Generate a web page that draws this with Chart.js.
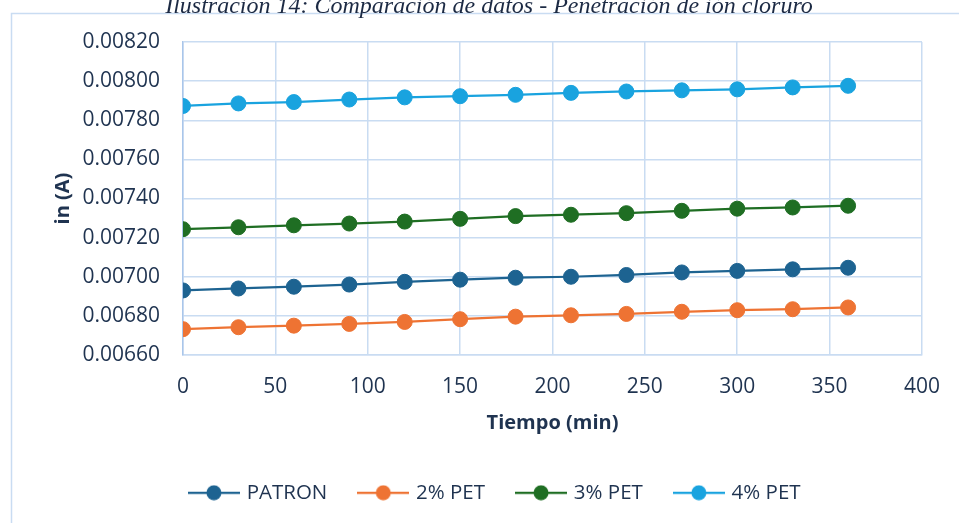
<!DOCTYPE html>
<html>
<head>
    <title>Penetracion de ion cloruro</title>
    <script src="https://cdn.jsdelivr.net/npm/chart.js@4/dist/chart.umd.min.js"></script>
    <style>
        body { margin: 0; background: #ffffff; }
        canvas { display: block; }
    </style>
</head>
<body>
<canvas id="stage" width="959" height="523"></canvas>
<script>
    // datos
    var tiempo = [0, 30, 60, 90, 120, 150, 180, 210, 240, 270, 300, 330, 360];
    var patron = [0.006930, 0.006940, 0.006949, 0.006960, 0.006974, 0.006985, 0.006995, 0.007000, 0.007009, 0.007022, 0.007030, 0.007038, 0.007046];
    var pet2 = [0.006732, 0.006742, 0.006750, 0.006759, 0.006769, 0.006783, 0.006796, 0.006803, 0.006810, 0.006821, 0.006829, 0.006834, 0.006843];
    var pet3 = [0.007243, 0.007253, 0.007263, 0.007272, 0.007282, 0.007296, 0.007310, 0.007317, 0.007325, 0.007337, 0.007348, 0.007354, 0.007363];
    var pet4 = [0.007873, 0.007886, 0.007893, 0.007906, 0.007917, 0.007923, 0.007930, 0.007940, 0.007947, 0.007953, 0.007958, 0.007968, 0.007976];
    var nombres = ['PATRON', '2% PET', '3% PET', '4% PET'];
    var colores = ['#1d6391', '#ee7333', '#1f6e23', '#19a3df'];
    var titulo = 'Ilustración 14: Comparación de datos - Penetración de ión cloruro';

    var txtColor = '#1f3350';
    var gridColor = '#c9dcf2';

    function puntos(ys) {
        var p = [];
        for (var i = 0; i < tiempo.length; i++) {
            p.push({x: tiempo[i], y: ys[i]});
        }
        return p;
    }

    // icono de leyenda: linea con circulo
    function icono(color) {
        var c = document.createElement('canvas');
        c.width = 52;
        c.height = 16;
        var g = c.getContext('2d');
        g.strokeStyle = color;
        g.lineWidth = 2.25;
        g.beginPath();
        g.moveTo(0, 8);
        g.lineTo(52, 8);
        g.stroke();
        g.fillStyle = color;
        g.beginPath();
        g.arc(26, 8, 7.5, 0, Math.PI * 2);
        g.fill();
        return c;
    }

    var series = [patron, pet2, pet3, pet4];
    var datasets = [];
    for (var k = 0; k < series.length; k++) {
        datasets.push({
            label: nombres[k],
            data: puntos(series[k]),
            showLine: true,
            borderColor: colores[k],
            backgroundColor: colores[k],
            borderWidth: 2.25,
            pointRadius: 7.5,
            pointHoverRadius: 7.5,
            pointBorderWidth: 1,
            pointBorderColor: colores[k],
            pointBackgroundColor: colores[k]
        });
    }

    var marco = {
        id: 'marco',
        afterLayout: function (chart) {
            // la leyenda del original esta un poco a la derecha
            chart.legend.left += 9;
            chart.legend.right += 9;
        },
        beforeDraw: function (chart) {
            var ctx = chart.ctx;
            ctx.save();
            ctx.fillStyle = '#ffffff';
            ctx.fillRect(0, 0, chart.width, chart.height);
            ctx.strokeStyle = gridColor;
            ctx.lineWidth = 1.5;
            ctx.strokeRect(11.5, 13.5, 1000, 600);
            ctx.restore();
        },
        afterDraw: function (chart) {
            var ctx = chart.ctx;
            ctx.save();
            ctx.font = 'italic 24px "Liberation Serif"';
            ctx.fillStyle = '#1c2a44';
            ctx.textAlign = 'center';
            ctx.textBaseline = 'alphabetic';
            ctx.fillText(titulo, 489, 13);
            ctx.restore();
        }
    };

    var fuente = {family: '"Open Sans"', size: 21};
    var fuenteLeyenda = {family: '"Open Sans"', size: 20.5};
    var fuenteTitulo = {family: '"Open Sans"', size: 20, weight: 'bold'};

    var canvas = document.getElementById('stage');
    var chart = new Chart(canvas, {
        type: 'scatter',
        data: {datasets: datasets},
        options: {
            responsive: false,
            animation: false,
            layout: {padding: {left: 51, top: 42, right: 36, bottom: 10}},
            plugins: {
                tooltip: {enabled: false},
                legend: {
                    position: 'bottom',
                    labels: {
                        usePointStyle: true,
                        pointStyleWidth: 45,
                        padding: 33.5,
                        color: txtColor,
                        font: fuenteLeyenda,
                        generateLabels: function (ch) {
                            return ch.data.datasets.map(function (ds, i) {
                                return {
                                    text: ds.label,
                                    pointStyle: icono(colores[i]),
                                    fontColor: txtColor,
                                    lineWidth: 0,
                                    strokeStyle: colores[i],
                                    fillStyle: colores[i],
                                    datasetIndex: i
                                };
                            });
                        }
                    }
                }
            },
            scales: {
                x: {
                    type: 'linear',
                    min: 0,
                    max: 400,
                    ticks: {stepSize: 50, color: txtColor, font: fuente, padding: 19, maxRotation: 0},
                    grid: {color: gridColor, lineWidth: 1.5, drawTicks: false},
                    border: {color: gridColor, width: 1.5},
                    title: {display: true, text: 'Tiempo (min)', color: txtColor, padding: {top: 0, bottom: 14},
                        font: fuenteTitulo},
                    afterFit: function (s) { s.height = 94; }
                },
                y: {
                    min: 0.0066,
                    max: 0.0082,
                    ticks: {
                        stepSize: 0.0002,
                        color: txtColor,
                        font: fuente,
                        padding: 23,
                        callback: function (v) { return v.toFixed(5); }
                    },
                    grid: {color: gridColor, lineWidth: 1.5, drawTicks: false},
                    border: {color: '#a9c6ea', width: 1.5},
                    title: {display: true, text: 'in (A)', color: txtColor, padding: {top: 0, bottom: 0},
                        font: fuenteTitulo},
                    afterFit: function (s) { s.width = 132; }
                }
            }
        },
        plugins: [marco]
    });
</script>
</body>
</html>
